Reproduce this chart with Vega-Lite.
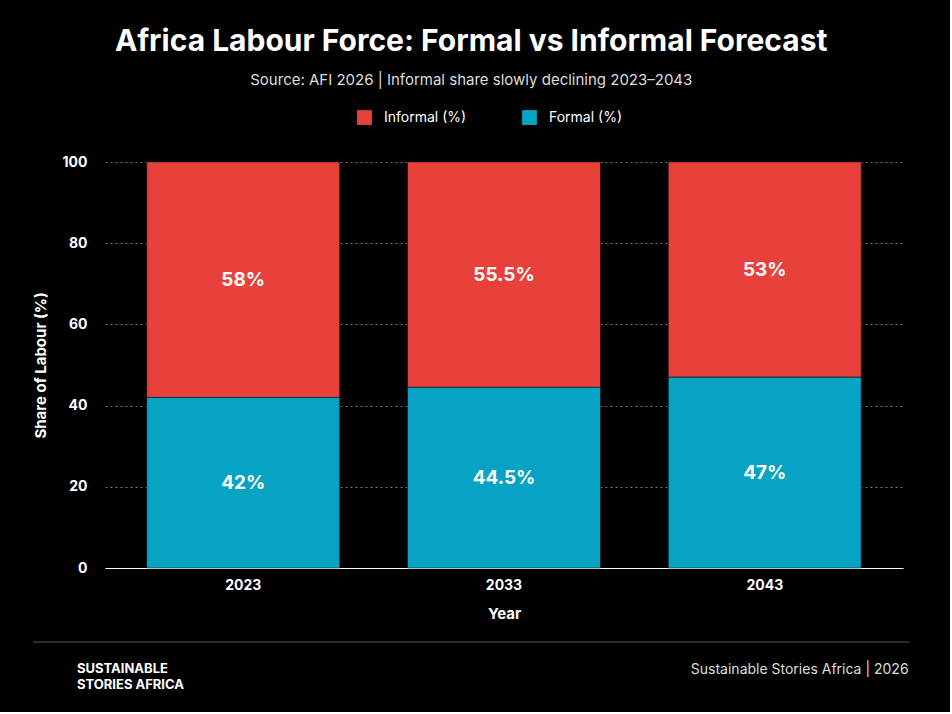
{
  "$schema": "https://vega.github.io/schema/vega-lite/v6.json",
  "background": "#000000",
  "padding": {"left": 32, "right": 40, "top": 27, "bottom": 10},
  "title": {
    "text": "Africa Labour Force: Formal vs Informal Forecast",
    "subtitle": "Source: AFI 2026   |   Informal share slowly declining 2023–2043",
    "color": "#ffffff", "subtitleColor": "#dddddd",
    "font": "Inter", "subtitleFont": "Inter",
    "fontSize": 30, "fontWeight": "bold", "subtitleFontSize": 15,
    "subtitlePadding": 16, "anchor": "middle", "offset": 22
  },
  "data": {"values": [
    {"Year": "2023", "type": "Informal (%)", "value": 58, "ord": 2},
    {"Year": "2023", "type": "Formal (%)", "value": 42, "ord": 1},
    {"Year": "2033", "type": "Informal (%)", "value": 55.5, "ord": 2},
    {"Year": "2033", "type": "Formal (%)", "value": 44.5, "ord": 1},
    {"Year": "2043", "type": "Informal (%)", "value": 53, "ord": 2},
    {"Year": "2043", "type": "Formal (%)", "value": 47, "ord": 1}
  ]},
  "vconcat": [
    {
      "width": 798, "height": 406,
      "transform": [
        {"stack": "value", "groupby": ["Year"], "sort": [{"field": "ord"}], "as": ["v0", "v1"]},
        {"calculate": "(datum.v0 + datum.v1) / 2", "as": "mid"},
        {"calculate": "datum.value + '%'", "as": "label"}
      ],
      "encoding": {
        "x": {"field": "Year", "type": "nominal", "scale": {"paddingInner": 0.26, "paddingOuter": 0.16},
          "axis": {"labelAngle": 0, "title": "Year", "domain": true, "domainColor": "#ffffff", "ticks": false, "labelPadding": 10, "titlePadding": 14}}
      },
      "layer": [
        {"mark": {"type": "bar", "stroke": "#000000", "strokeWidth": 0.5},
          "encoding": {
            "y": {"field": "v0", "type": "quantitative", "scale": {"domain": [0, 100]},
              "axis": {"title": "Share of Labour (%)", "values": [0, 20, 40, 60, 80, 100], "domain": false, "ticks": false, "labelPadding": 18, "titlePadding": 14,
                "grid": true, "gridColor": "#777777", "gridDash": [2, 3]}},
            "y2": {"field": "v1"},
            "color": {"field": "type", "type": "nominal",
            "scale": {"domain": ["Informal (%)", "Formal (%)"], "range": ["#E8413C", "#06A3C4"]},
            "legend": {"orient": "none", "legendX": 252, "legendY": -52, "direction": "horizontal", "title": null, "symbolType": "square", "symbolSize": 220, "labelOffset": 12, "labelColor": "#ffffff", "labelFontSize": 14, "labelFont": "Inter", "columnPadding": 55, "symbolOpacity": 1, "symbolStrokeWidth": 0}}}},
        {"mark": {"type": "text", "color": "#ffffff", "fontSize": 19, "fontWeight": "bold", "font": "Inter"},
          "encoding": {"y": {"field": "mid", "type": "quantitative"},
            "text": {"field": "label"}}}
      ]
    },
    {
      "width": 798, "height": 60,
      "data": {"values": [{"right": "Sustainable Stories Africa   |   2026"}]},
      "layer": [
        {"mark": {"type": "rule", "color": "#555555"}, "encoding": {
          "x": {"datum": -9, "type": "quantitative", "scale": {"domain": [0, 100]}, "axis": null},
          "x2": {"datum": 100.8},
          "y": {"datum": 0, "type": "quantitative", "scale": {"domain": [0, 60], "reverse": true}, "axis": null}}},
        {"mark": {"type": "text", "align": "left", "color": "#ffffff", "fontSize": 13, "fontWeight": "bold", "font": "Inter", "lineHeight": 16, "dx": -28},
          "encoding": {"x": {"datum": 0, "type": "quantitative"},
            "y": {"datum": 27, "type": "quantitative"},
            "text": {"value": ["SUSTAINABLE", "STORIES AFRICA"]}}},
        {"mark": {"type": "text", "align": "right", "color": "#dddddd", "fontSize": 14, "font": "Inter"},
          "encoding": {"x": {"datum": 100.7, "type": "quantitative"},
            "y": {"datum": 28, "type": "quantitative"},
            "text": {"field": "right"}}}
      ]
    }
  ],
  "spacing": 20,
  "config": {
    "view": {"stroke": null},
    "axis": {"labelColor": "#ffffff", "titleColor": "#ffffff", "labelFont": "Inter", "titleFont": "Inter", "labelFontSize": 14, "titleFontSize": 15, "labelFontWeight": "bold", "titleFontWeight": "bold"}
  }
}
